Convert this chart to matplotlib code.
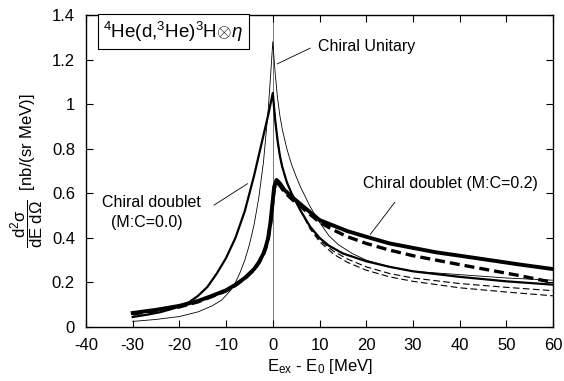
import matplotlib
matplotlib.use("Agg")
import matplotlib.pyplot as plt
import numpy as np

plt.rcParams['font.family'] = ['Liberation Sans', 'DejaVu Sans']
plt.rcParams['mathtext.fontset'] = 'custom'
plt.rcParams['mathtext.rm'] = 'Liberation Sans'
plt.rcParams['mathtext.it'] = 'Liberation Sans:italic'
plt.rcParams['axes.unicode_minus'] = False

# Chiral Unitary (thin solid)
unit_x = [-30, -25, -20, -16, -13, -11, -9, -8, -7, -6, -5, -4, -3, -2, -1, -0.5, 0,
          0.5, 1, 1.5, 2, 3, 4, 5, 6, 8, 10, 12, 14, 17, 20, 25, 30, 40, 50, 60]
unit_y = [0.025, 0.034, 0.047, 0.068, 0.095, 0.12, 0.165, 0.20, 0.245, 0.30, 0.37, 0.46, 0.58, 0.74, 0.97, 1.12, 1.28,
          1.14, 1.03, 0.95, 0.89, 0.80, 0.73, 0.675, 0.625, 0.54, 0.47, 0.41, 0.37, 0.33, 0.30, 0.27, 0.25, 0.235, 0.22, 0.21]

# Chiral doublet (M:C=0.0) (medium solid)
d00_x = [-30, -27, -24, -21, -18, -16, -14, -12, -10, -8, -6, -4, -3, -2, -1, 0,
         0.5, 1, 1.5, 2, 3, 4, 5, 6, 8, 10, 12, 15, 20, 25, 30, 40, 50, 60]
d00_y = [0.045, 0.055, 0.067, 0.085, 0.11, 0.14, 0.18, 0.24, 0.31, 0.40, 0.52, 0.68, 0.77, 0.86, 0.95, 1.05,
         0.93, 0.84, 0.77, 0.72, 0.65, 0.60, 0.56, 0.52, 0.45, 0.40, 0.365, 0.33, 0.295, 0.27, 0.25, 0.225, 0.205, 0.19]

# thin dashed companions
td1_x = [0, 0.5, 1, 1.5, 2, 3, 4, 5, 6, 8, 10, 13, 16, 20, 25, 30, 40, 50, 60]
td1_y = [1.05, 0.93, 0.84, 0.77, 0.72, 0.65, 0.60, 0.56, 0.52, 0.445, 0.39, 0.34, 0.305, 0.27, 0.24, 0.22, 0.195, 0.178, 0.163]
td2_x = [0, 0.5, 1, 1.5, 2, 3, 4, 5, 6, 8, 10, 13, 16, 20, 25, 30, 40, 50, 60]
td2_y = [1.05, 0.93, 0.84, 0.77, 0.72, 0.65, 0.60, 0.56, 0.52, 0.44, 0.383, 0.327, 0.29, 0.255, 0.225, 0.205, 0.176, 0.157, 0.14]

# Chiral doublet (M:C=0.2) (thick solid)
d02_x = [-30, -25, -20, -16, -13, -10, -8, -6, -4, -3, -2, -1.5, -1, -0.5, 0, 0.3, 0.8,
         1.5, 2.5, 4, 6, 8, 10, 13, 16, 20, 25, 30, 35, 40, 46.5, 53, 60]
d02_y = [0.063, 0.077, 0.095, 0.117, 0.14, 0.165, 0.19, 0.22, 0.26, 0.29, 0.33, 0.36, 0.40, 0.47, 0.57, 0.63, 0.66,
         0.645, 0.615, 0.585, 0.55, 0.515, 0.48, 0.455, 0.43, 0.405, 0.375, 0.355, 0.335, 0.32, 0.30, 0.28, 0.26]

# thick dashed
dd_x = [-30, -25, -20, -16, -13, -10, -8, -6, -4, -3, -2, -1.5, -1, -0.5, 0, 0.3, 0.8,
        1.5, 2.5, 4, 6, 8, 10, 13, 16, 20, 25, 30, 35, 40, 46.5, 53, 60]
dd_y = [0.058, 0.073, 0.09, 0.113, 0.137, 0.162, 0.187, 0.217, 0.257, 0.287, 0.325, 0.355, 0.395, 0.46, 0.56, 0.62, 0.65,
        0.635, 0.605, 0.575, 0.54, 0.505, 0.47, 0.435, 0.405, 0.375, 0.345, 0.32, 0.30, 0.28, 0.255, 0.23, 0.20]

fig = plt.figure(figsize=(5.64, 3.81), dpi=100)
ax = fig.add_axes([0.1525, 0.1417, 0.828, 0.819])

ax.axvline(0, color='#777777', lw=0.7, zorder=1)
ax.plot(td2_x, td2_y, color='black', lw=0.8, ls=(0, (6, 3)))
ax.plot(td1_x, td1_y, color='black', lw=0.8, ls=(0, (6, 3)))
ax.plot(unit_x, unit_y, color='black', lw=0.6)
ax.plot(d00_x, d00_y, color='black', lw=1.6)
ax.plot(dd_x, dd_y, color='black', lw=2.4, ls=(0, (3, 1.5)))
ax.plot(d02_x, d02_y, color='black', lw=2.8)

ax.set_xlim(-40, 60)
ax.set_ylim(0, 1.4)
ax.set_xticks(np.arange(-40, 61, 10))
ax.set_yticks([0, 0.2, 0.4, 0.6, 0.8, 1.0, 1.2, 1.4])
ax.set_yticklabels(['0', '0.2', '0.4', '0.6', '0.8', '1', '1.2', '1.4'])
ax.tick_params(direction='in', top=True, right=True, labelsize=12, length=5, width=0.8)
ax.tick_params(axis='x', pad=8)
ax.tick_params(axis='y', pad=8)
for s in ax.spines.values():
    s.set_linewidth(1.0)

ax.set_xlabel(r'E$_{\mathrm{ex}}$ - E$_0$ [MeV]', fontsize=12, labelpad=3)
ax.set_ylabel(r'$\dfrac{\mathrm{d^2σ}}{\mathrm{dE\ dΩ}}$  [nb/(sr MeV)]', fontsize=12, labelpad=4)

ax.text(-36.3, 1.325, r'$^4$He(d,$^3$He)$^3$H$\otimes\eta$', fontsize=13.5, va='center', ha='left',
        bbox=dict(boxstyle='square,pad=0.3', fc='white', ec='black', lw=0.8))

ax.text(9.6, 1.257, 'Chiral Unitary', fontsize=11.5, va='center', ha='left')
ax.annotate('', xy=(0.4, 1.175), xytext=(8.6, 1.257),
            arrowprops=dict(arrowstyle='-', lw=0.6, color='black'))

ax.text(-25.9, 0.56, 'Chiral doublet', fontsize=11.5, va='center', ha='center')
ax.text(-27.0, 0.47, '(M:C=0.0)', fontsize=11.5, va='center', ha='center')
ax.annotate('', xy=(-4.9, 0.65), xytext=(-13.1, 0.54),
            arrowprops=dict(arrowstyle='-', lw=0.6, color='black'))

ax.text(38, 0.645, 'Chiral doublet (M:C=0.2)', fontsize=11.5, va='center', ha='center')
ax.annotate('', xy=(20.5, 0.405), xytext=(26.5, 0.57),
            arrowprops=dict(arrowstyle='-', lw=0.6, color='black'))

fig.savefig('out.png', dpi=100)
